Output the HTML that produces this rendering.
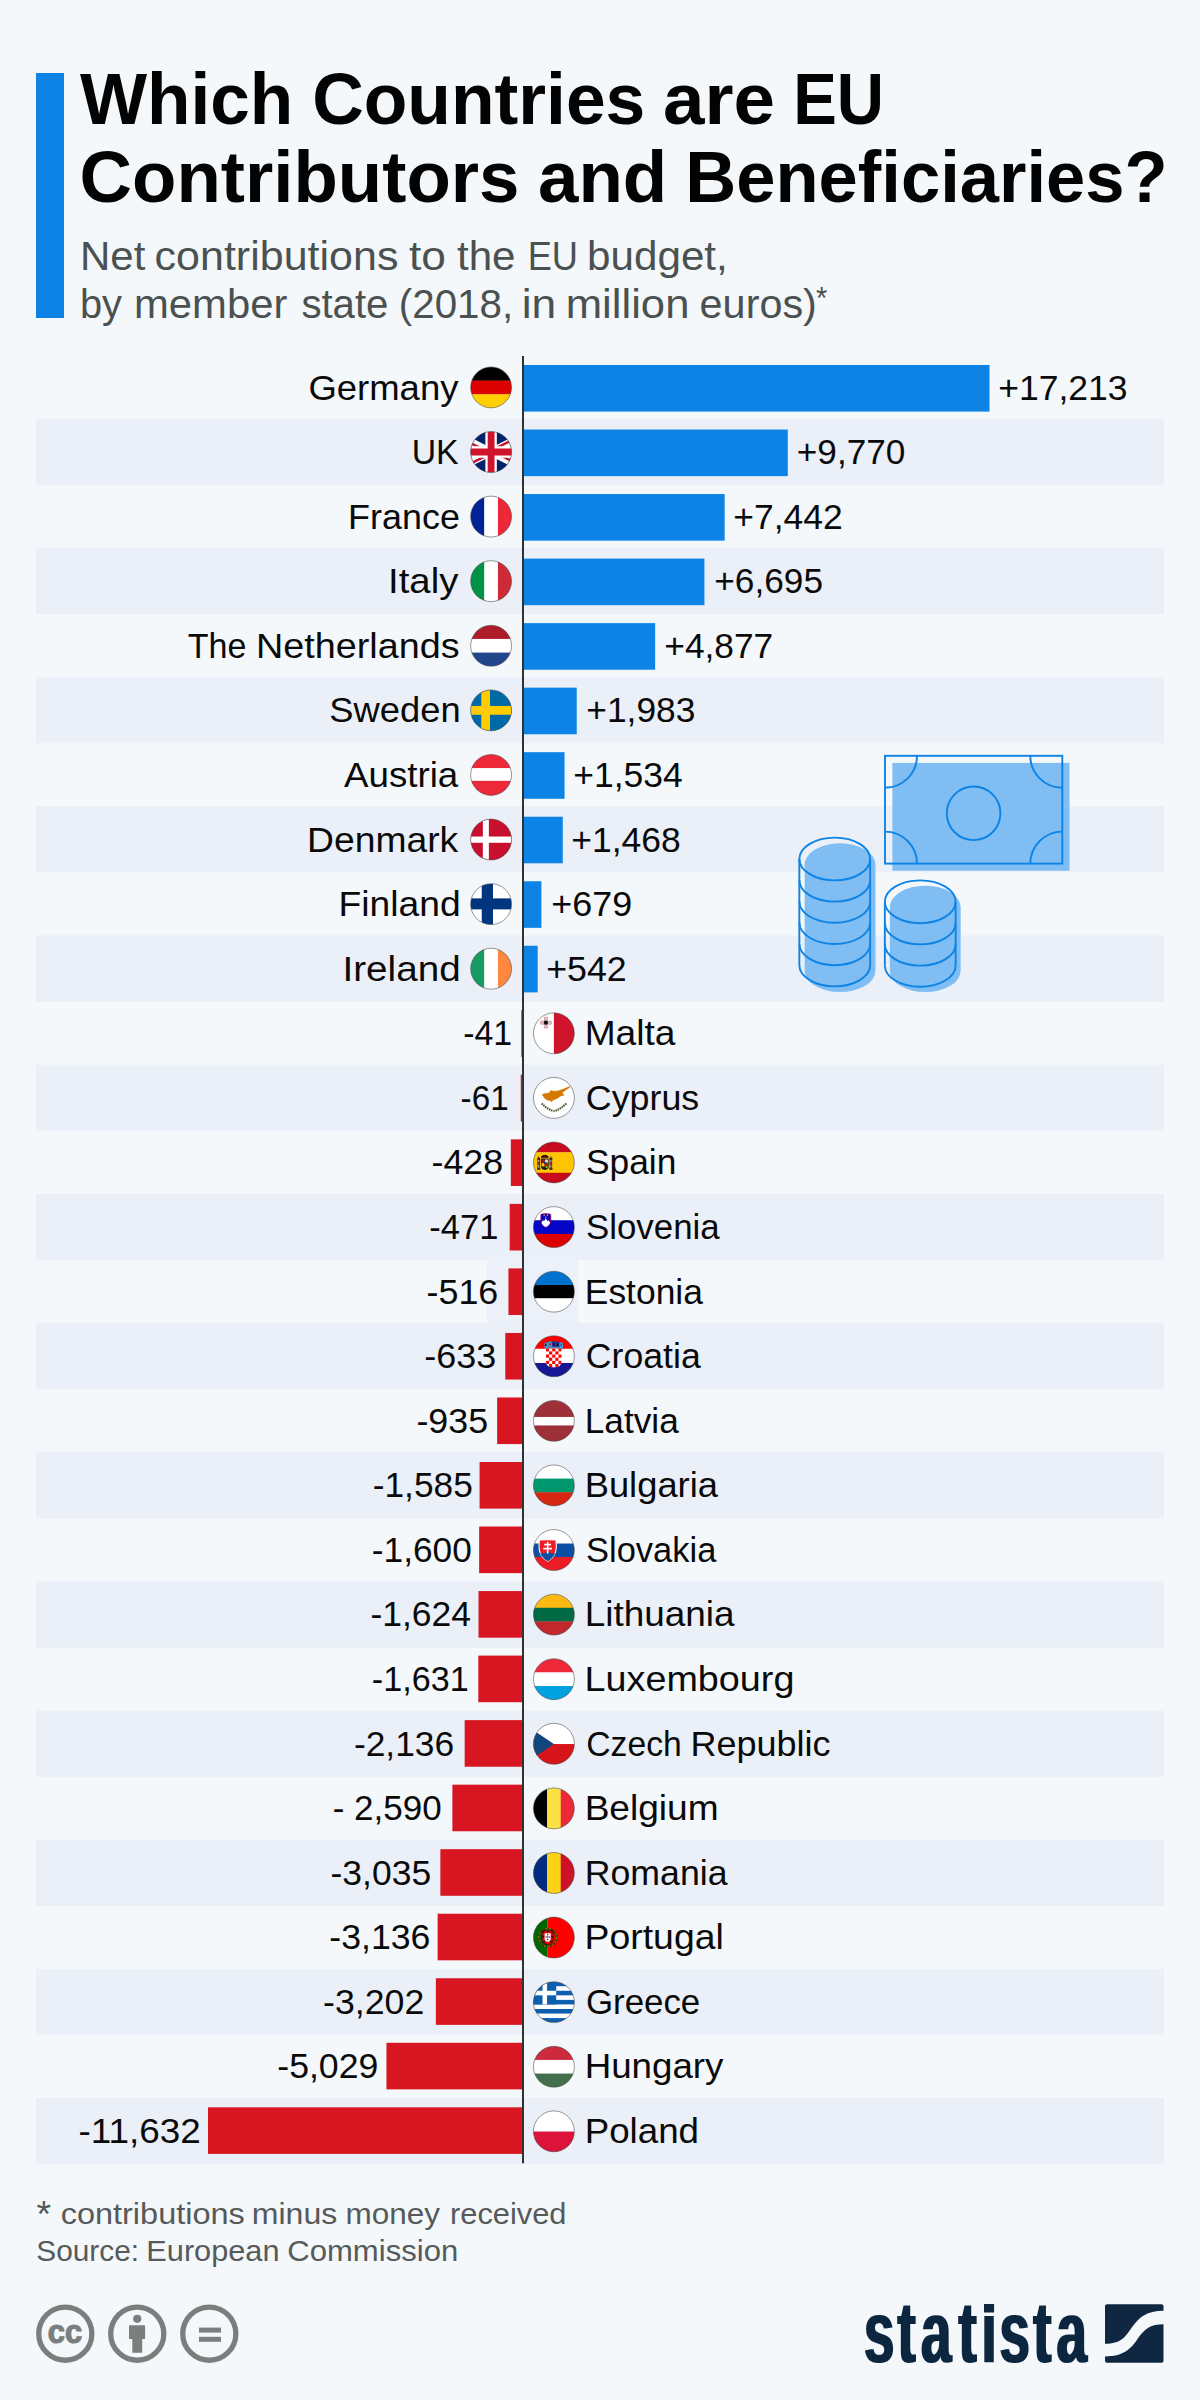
<!DOCTYPE html>
<html lang="en"><head><meta charset="utf-8"><title>Which Countries are EU Contributors and Beneficiaries?</title>
<style>html,body{margin:0;padding:0;background:#f4f8fb}svg{display:block}text{font-family:"Liberation Sans",Arial,sans-serif}</style></head><body>
<svg width="1200" height="2400" viewBox="0 0 1200 2400">
<rect width="1200" height="2400" fill="#f4f8fb"/>
<rect x="36" y="73" width="28" height="245" fill="#0d84e5"/>
<text y="123.50" font-size="71.8" fill="#020302" font-weight="700"><tspan x="80.00" textLength="213.30" lengthAdjust="spacingAndGlyphs">Which</tspan> <tspan x="312.14" textLength="333.20" lengthAdjust="spacingAndGlyphs">Countries</tspan> <tspan x="662.92" textLength="112.03" lengthAdjust="spacingAndGlyphs">are</tspan> <tspan x="793.18" textLength="90.74" lengthAdjust="spacingAndGlyphs">EU</tspan></text>
<text y="201.50" font-size="71.8" fill="#020302" font-weight="700"><tspan x="79.59" textLength="439.87" lengthAdjust="spacingAndGlyphs">Contributors</tspan> <tspan x="537.97" textLength="129.28" lengthAdjust="spacingAndGlyphs">and</tspan> <tspan x="685.33" textLength="482.24" lengthAdjust="spacingAndGlyphs">Beneficiaries?</tspan></text>
<text y="269.80" font-size="41" fill="#4b5050"><tspan x="79.97" textLength="65.34" lengthAdjust="spacingAndGlyphs">Net</tspan> <tspan x="154.55" textLength="243.87" lengthAdjust="spacingAndGlyphs">contributions</tspan> <tspan x="409.06" textLength="36.97" lengthAdjust="spacingAndGlyphs">to</tspan> <tspan x="456.99" textLength="58.56" lengthAdjust="spacingAndGlyphs">the</tspan> <tspan x="527.63" textLength="50.35" lengthAdjust="spacingAndGlyphs">EU</tspan> <tspan x="587.10" textLength="140.67" lengthAdjust="spacingAndGlyphs">budget,</tspan></text>
<text y="317.80" font-size="41" fill="#4b5050"><tspan x="79.95" textLength="42.10" lengthAdjust="spacingAndGlyphs">by</tspan> <tspan x="134.02" textLength="153.31" lengthAdjust="spacingAndGlyphs">member</tspan> <tspan x="301.40" textLength="87.03" lengthAdjust="spacingAndGlyphs">state</tspan> <tspan x="398.79" textLength="114.38" lengthAdjust="spacingAndGlyphs">(2018,</tspan> <tspan x="521.66" textLength="34.48" lengthAdjust="spacingAndGlyphs">in</tspan> <tspan x="565.70" textLength="123.73" lengthAdjust="spacingAndGlyphs">million</tspan> <tspan x="699.61" textLength="117.28" lengthAdjust="spacingAndGlyphs">euros)</tspan></text>
<text transform="translate(816.03 309.00) scale(0.9348 1)" font-size="31" fill="#4b5050">*</text>
<rect x="36" y="418.70" width="1128" height="66.3" fill="#ebf0f8"/>
<rect x="36" y="547.88" width="1128" height="66.3" fill="#ebf0f8"/>
<rect x="36" y="677.06" width="1128" height="66.3" fill="#ebf0f8"/>
<rect x="36" y="806.24" width="1128" height="66.3" fill="#ebf0f8"/>
<rect x="36" y="935.42" width="1128" height="66.3" fill="#ebf0f8"/>
<rect x="36" y="1064.60" width="1128" height="66.3" fill="#ebf0f8"/>
<rect x="36" y="1193.78" width="1128" height="66.3" fill="#ebf0f8"/>
<rect x="36" y="1322.96" width="1128" height="66.3" fill="#ebf0f8"/>
<rect x="36" y="1452.14" width="1128" height="66.3" fill="#ebf0f8"/>
<rect x="36" y="1581.32" width="1128" height="66.3" fill="#ebf0f8"/>
<rect x="36" y="1710.50" width="1128" height="66.3" fill="#ebf0f8"/>
<rect x="36" y="1839.68" width="1128" height="66.3" fill="#ebf0f8"/>
<rect x="36" y="1968.86" width="1128" height="66.3" fill="#ebf0f8"/>
<rect x="36" y="2098.04" width="1128" height="66.3" fill="#ebf0f8"/>
<rect x="486.8" y="1258.5" width="91" height="65.5" fill="#ebf0f8" opacity="0.9"/>
<rect x="892.4" y="762.9" width="177.1" height="107.8" fill="#7fbdf2"/><g fill="none" stroke="#0d84e5" stroke-width="1.9"><rect x="885.0" y="755.8" width="177.30" height="107.80"/><circle cx="973.6" cy="813.3" r="26.8"/><path d="M917.0 755.8 A32 32 0 0 1 885.0 787.8"/><path d="M1030.3 755.8 A32 32 0 0 0 1062.3 787.8"/><path d="M917.0 863.6 A32 32 0 0 0 885.0 831.6"/><path d="M1030.3 863.6 A32 32 0 0 1 1062.3 831.6"/></g><path d="M804.65 864.70 A35.4 21.4 0 0 1 875.45 864.70 V970.70 A35.4 21.4 0 0 1 804.65 970.70 Z" fill="#7fbdf2"/><g fill="none" stroke="#0d84e5" stroke-width="1.9"><ellipse cx="834.75" cy="859.0" rx="35.4" ry="21.4"/><path d="M799.35 880.20 A35.4 21.4 0 0 0 870.15 880.20"/><path d="M799.35 901.40 A35.4 21.4 0 0 0 870.15 901.40"/><path d="M799.35 922.60 A35.4 21.4 0 0 0 870.15 922.60"/><path d="M799.35 943.80 A35.4 21.4 0 0 0 870.15 943.80"/><path d="M799.35 965.00 A35.4 21.4 0 0 0 870.15 965.00"/><path d="M799.35 859.00 V965.00 M870.15 859.00 V965.00"/></g><path d="M889.85 907.10 A35.4 21.4 0 0 1 960.65 907.10 V970.70 A35.4 21.4 0 0 1 889.85 970.70 Z" fill="#7fbdf2"/><g fill="none" stroke="#0d84e5" stroke-width="1.9"><ellipse cx="920.25" cy="901.8" rx="35.4" ry="21.4"/><path d="M884.85 923.00 A35.4 21.4 0 0 0 955.65 923.00"/><path d="M884.85 944.20 A35.4 21.4 0 0 0 955.65 944.20"/><path d="M884.85 965.40 A35.4 21.4 0 0 0 955.65 965.40"/><path d="M884.85 901.80 V965.40 M955.65 901.80 V965.40"/></g>
<rect x="523.0" y="365.00" width="466.47" height="46.6" fill="#0d84e5"/>
<text transform="translate(308.42 399.60) scale(1.0161 1)" font-size="35.9" fill="#0a0a0a">Germany</text>
<text transform="translate(998.27 399.60) scale(0.9892 1)" font-size="35.9" fill="#0a0a0a">+17,213</text>
<g transform="translate(491.10 387.40)"><clipPath id="cde"><circle r="20.45"/></clipPath><g clip-path="url(#cde)"><rect x="-21.00" y="-21.00" width="42.00" height="14.47" fill="#000"/><rect x="-21.00" y="-6.83" width="42.00" height="13.96" fill="#dd0000"/><rect x="-21.00" y="6.83" width="42.00" height="14.17" fill="#ffce00"/></g><circle r="20.45" fill="none" stroke="#444" stroke-width="0.55"/></g>
<rect x="523.0" y="429.53" width="264.77" height="46.6" fill="#0d84e5"/>
<text transform="translate(411.71 464.17) scale(0.9412 1)" font-size="35.9" fill="#0a0a0a">UK</text>
<text transform="translate(796.78 464.17) scale(0.9803 1)" font-size="35.9" fill="#0a0a0a">+9,770</text>
<g transform="translate(491.10 451.99)"><clipPath id="cgb"><circle r="20.45"/></clipPath><g clip-path="url(#cgb)"><g transform="scale(1.3667) translate(-30 -15)"><rect width="60" height="30" fill="#012169"/><path d="M0 0L60 30M60 0L0 30" stroke="#fff" stroke-width="5.6"/><clipPath id="gbt"><path d="M30 15h30v15zv15h-30zh-30v-15zv-15h30z"/></clipPath><path d="M0 0L60 30M60 0L0 30" clip-path="url(#gbt)" stroke="#c8102e" stroke-width="3.6"/><path d="M30 0v30M0 15h60" stroke="#fff" stroke-width="8.4"/><path d="M30 0v30M0 15h60" stroke="#cf142b" stroke-width="5"/></g></g><circle r="20.45" fill="none" stroke="#444" stroke-width="0.55"/></g>
<rect x="523.0" y="494.06" width="201.68" height="46.6" fill="#0d84e5"/>
<text transform="translate(348.12 528.74) scale(1.0005 1)" font-size="35.9" fill="#0a0a0a">France</text>
<text transform="translate(733.27 528.74) scale(0.9883 1)" font-size="35.9" fill="#0a0a0a">+7,442</text>
<g transform="translate(491.10 516.58)"><clipPath id="cfr"><circle r="20.45"/></clipPath><g clip-path="url(#cfr)"><rect x="-21.00" y="-21.00" width="14.47" height="42.00" fill="#002395"/><rect x="-6.83" y="-21.00" width="13.96" height="42.00" fill="#fff"/><rect x="6.83" y="-21.00" width="14.17" height="42.00" fill="#ed2939"/></g><circle r="20.45" fill="none" stroke="#444" stroke-width="0.55"/></g>
<rect x="523.0" y="558.59" width="181.43" height="46.6" fill="#0d84e5"/>
<text transform="translate(388.03 593.31) scale(1.0688 1)" font-size="35.9" fill="#0a0a0a">Italy</text>
<text transform="translate(714.28 593.31) scale(0.9814 1)" font-size="35.9" fill="#0a0a0a">+6,695</text>
<g transform="translate(491.10 581.17)"><clipPath id="cit"><circle r="20.45"/></clipPath><g clip-path="url(#cit)"><rect x="-21.00" y="-21.00" width="14.47" height="42.00" fill="#009246"/><rect x="-6.83" y="-21.00" width="13.96" height="42.00" fill="#fff"/><rect x="6.83" y="-21.00" width="14.17" height="42.00" fill="#ce2b37"/></g><circle r="20.45" fill="none" stroke="#444" stroke-width="0.55"/></g>
<rect x="523.0" y="623.12" width="132.17" height="46.6" fill="#0d84e5"/>
<text y="657.88" font-size="35.9" fill="#0a0a0a"><tspan x="187.79" textLength="58.70" lengthAdjust="spacingAndGlyphs">The</tspan> <tspan x="255.97" textLength="203.58" lengthAdjust="spacingAndGlyphs">Netherlands</tspan></text>
<text transform="translate(664.28 657.88) scale(0.9837 1)" font-size="35.9" fill="#0a0a0a">+4,877</text>
<g transform="translate(491.10 645.76)"><clipPath id="cnl"><circle r="20.45"/></clipPath><g clip-path="url(#cnl)"><rect x="-21.00" y="-21.00" width="42.00" height="14.47" fill="#ae1c28"/><rect x="-21.00" y="-6.83" width="42.00" height="13.96" fill="#fff"/><rect x="-21.00" y="6.83" width="42.00" height="14.17" fill="#21468b"/></g><circle r="20.45" fill="none" stroke="#444" stroke-width="0.55"/></g>
<rect x="523.0" y="687.65" width="53.74" height="46.6" fill="#0d84e5"/>
<text transform="translate(329.35 722.45) scale(1.0123 1)" font-size="35.9" fill="#0a0a0a">Sweden</text>
<text transform="translate(586.28 722.45) scale(0.9849 1)" font-size="35.9" fill="#0a0a0a">+1,983</text>
<g transform="translate(491.10 710.35)"><clipPath id="cse"><circle r="20.45"/></clipPath><g clip-path="url(#cse)"><rect x="-21.00" y="-21.00" width="42.00" height="42.00" fill="#006aa7"/><rect x="-9.85" y="-21.00" width="8.75" height="42.00" fill="#fecc00"/><rect x="-21.00" y="-4.40" width="42.00" height="8.80" fill="#fecc00"/></g><circle r="20.45" fill="none" stroke="#444" stroke-width="0.55"/></g>
<rect x="523.0" y="752.18" width="41.57" height="46.6" fill="#0d84e5"/>
<text transform="translate(344.00 787.02) scale(1.0228 1)" font-size="35.9" fill="#0a0a0a">Austria</text>
<text transform="translate(573.27 787.02) scale(0.9884 1)" font-size="35.9" fill="#0a0a0a">+1,534</text>
<g transform="translate(491.10 774.94)"><clipPath id="cat"><circle r="20.45"/></clipPath><g clip-path="url(#cat)"><rect x="-21.00" y="-21.00" width="42.00" height="14.50" fill="#ed2939"/><rect x="-21.00" y="-6.80" width="42.00" height="13.00" fill="#fff"/><rect x="-21.00" y="5.90" width="42.00" height="15.10" fill="#ed2939"/></g><circle r="20.45" fill="none" stroke="#444" stroke-width="0.55"/></g>
<rect x="523.0" y="816.71" width="39.78" height="46.6" fill="#0d84e5"/>
<text transform="translate(307.01 851.59) scale(1.0389 1)" font-size="35.9" fill="#0a0a0a">Denmark</text>
<text transform="translate(571.27 851.59) scale(0.9884 1)" font-size="35.9" fill="#0a0a0a">+1,468</text>
<g transform="translate(491.10 839.53)"><clipPath id="cdk"><circle r="20.45"/></clipPath><g clip-path="url(#cdk)"><rect x="-21.00" y="-21.00" width="42.00" height="42.00" fill="#c8102e"/><rect x="-8.25" y="-21.00" width="6.00" height="42.00" fill="#fff"/><rect x="-21.00" y="-3.00" width="42.00" height="6.25" fill="#fff"/></g><circle r="20.45" fill="none" stroke="#444" stroke-width="0.55"/></g>
<rect x="523.0" y="881.24" width="18.40" height="46.6" fill="#0d84e5"/>
<text transform="translate(338.52 916.16) scale(1.0371 1)" font-size="35.9" fill="#0a0a0a">Finland</text>
<text transform="translate(551.25 916.16) scale(1.0000 1)" font-size="35.9" fill="#0a0a0a">+679</text>
<g transform="translate(491.10 904.12)"><clipPath id="cfi"><circle r="20.45"/></clipPath><g clip-path="url(#cfi)"><rect x="-21.00" y="-21.00" width="42.00" height="42.00" fill="#fff"/><rect x="-9.35" y="-21.00" width="11.25" height="42.00" fill="#003580"/><rect x="-21.00" y="-5.75" width="42.00" height="11.00" fill="#003580"/></g><circle r="20.45" fill="none" stroke="#444" stroke-width="0.55"/></g>
<rect x="523.0" y="945.77" width="14.69" height="46.6" fill="#0d84e5"/>
<text transform="translate(342.50 980.73) scale(1.0772 1)" font-size="35.9" fill="#0a0a0a">Ireland</text>
<text transform="translate(546.26 980.73) scale(0.9952 1)" font-size="35.9" fill="#0a0a0a">+542</text>
<g transform="translate(491.10 968.71)"><clipPath id="cie"><circle r="20.45"/></clipPath><g clip-path="url(#cie)"><rect x="-21.00" y="-21.00" width="14.47" height="42.00" fill="#169b62"/><rect x="-6.83" y="-21.00" width="13.96" height="42.00" fill="#fff"/><rect x="6.83" y="-21.00" width="14.17" height="42.00" fill="#ff883e"/></g><circle r="20.45" fill="none" stroke="#444" stroke-width="0.55"/></g>
<rect x="521.29" y="1010.30" width="1.71" height="46.6" fill="#d71622"/>
<text transform="translate(584.63 1045.30) scale(1.0345 1)" font-size="35.9" fill="#0a0a0a">Malta</text>
<text transform="translate(463.19 1045.30) scale(0.9419 1)" font-size="35.9" fill="#0a0a0a">-41</text>
<g transform="translate(553.90 1033.30)"><clipPath id="cmt"><circle r="20.45"/></clipPath><g clip-path="url(#cmt)"><rect x="-21.00" y="-21.00" width="21.00" height="42.00" fill="#fff"/><rect x="0.00" y="-21.00" width="21.00" height="42.00" fill="#cf142b"/><g transform="translate(-8 -10.6)"><path d="M-1.5 -5.4h3v3.9h3.9v3h-3.9v3.9h-3v-3.9h-3.9v-3h3.9z" fill="#c9cccd" stroke="#e8707c" stroke-width="0.6"/><circle r="2.1" fill="#111"/></g></g><circle r="20.45" fill="none" stroke="#444" stroke-width="0.55"/></g>
<rect x="520.75" y="1074.83" width="2.25" height="46.6" fill="#d71622"/>
<text transform="translate(585.86 1109.87) scale(0.9968 1)" font-size="35.9" fill="#0a0a0a">Cyprus</text>
<text transform="translate(460.61 1109.87) scale(0.9254 1)" font-size="35.9" fill="#0a0a0a">-61</text>
<g transform="translate(553.90 1097.89)"><clipPath id="ccy"><circle r="20.45"/></clipPath><g clip-path="url(#ccy)"><rect x="-21.00" y="-21.00" width="42.00" height="42.00" fill="#fff"/><path d="M-11.75 -3.1L-9.75 -4.1L-7.75 -4.35L-4.25 -5.1L-3.5 -7.35L-1.75 -6.85L2.25 -6.6L6.25 -7.6L10.25 -9.1L13.75 -10.6L16.25 -11.7L15.25 -10.1L12.25 -8.1L9.75 -6.6L8.5 -4.6L10.25 -2.6L8.25 -2.35L6.25 -1.6L4.25 -0.1L1.25 1.4L-1.25 2.4L-2.5 4.15L-3.75 2.65L-6.75 2.15L-9.25 0.4L-10.5 -1.6Z" fill="#d57800" stroke="#d57800" stroke-width="0.5" stroke-linejoin="round"/><path d="M-12.3 5.6Q-7 11 -0.3 13.3M12.5 5.6Q7 11 0.3 13.3" fill="none" stroke="#4e5b31" stroke-width="2" stroke-dasharray="1.6 0.7"/></g><circle r="20.45" fill="none" stroke="#444" stroke-width="0.55"/></g>
<rect x="510.83" y="1139.36" width="12.17" height="46.6" fill="#d71622"/>
<text transform="translate(586.00 1174.44) scale(0.9846 1)" font-size="35.9" fill="#0a0a0a">Spain</text>
<text transform="translate(431.50 1174.44) scale(0.9975 1)" font-size="35.9" fill="#0a0a0a">-428</text>
<g transform="translate(553.90 1162.48)"><clipPath id="ces"><circle r="20.45"/></clipPath><g clip-path="url(#ces)"><rect x="-21.00" y="-21.00" width="42.00" height="11.10" fill="#c60b1e"/><rect x="-21.00" y="-10.20" width="42.00" height="20.80" fill="#ffc400"/><rect x="-21.00" y="10.30" width="42.00" height="10.70" fill="#c60b1e"/><rect x="-16.40" y="-3.40" width="2.40" height="9.30" fill="#2a2a2a"/><rect x="-15.70" y="-2.60" width="1.00" height="2.40" fill="#b8b8b8"/><rect x="-15.70" y="2.20" width="1.00" height="3.00" fill="#b8b8b8"/><rect x="-16.70" y="-4.40" width="3.00" height="1.30" fill="#1a1a1a"/><rect x="-16.80" y="5.70" width="3.20" height="1.60" fill="#1a1a1a"/><rect x="-16.50" y="0.20" width="2.60" height="1.60" fill="#ad1519"/><rect x="-15.70" y="-6.00" width="1.00" height="1.80" fill="#1a1a1a"/><rect x="-4.20" y="-3.40" width="2.40" height="9.30" fill="#2a2a2a"/><rect x="-3.50" y="-2.60" width="1.00" height="2.40" fill="#b8b8b8"/><rect x="-3.50" y="2.20" width="1.00" height="3.00" fill="#b8b8b8"/><rect x="-4.50" y="-4.40" width="3.00" height="1.30" fill="#1a1a1a"/><rect x="-4.60" y="5.70" width="3.20" height="1.60" fill="#1a1a1a"/><rect x="-4.30" y="0.20" width="2.60" height="1.60" fill="#ad1519"/><rect x="-3.50" y="-6.00" width="1.00" height="1.80" fill="#1a1a1a"/><path d="M-13 -3.6H-5.2V3.6Q-5.2 7.4 -9.1 7.4Q-13 7.4 -13 3.6Z" fill="#1a1a1a"/><rect x="-12.30" y="-3.00" width="3.00" height="3.20" fill="#ad1519"/><rect x="-9.00" y="-3.00" width="3.10" height="3.20" fill="#d8d8d8"/><rect x="-12.30" y="0.60" width="3.00" height="3.40" fill="#ffc400"/><rect x="-9.00" y="0.60" width="3.10" height="3.40" fill="#ad1519"/><circle cx="-7.3" cy="4.6" r="1.2" fill="#9aa81e"/><circle cx="-9.1" cy="0.3" r="1.0" fill="#0039a6"/><path d="M-12.6 -3.9Q-13.4 -6.6 -11.4 -6.9Q-9.6 -8.6 -9.1 -7.2Q-8.6 -8.6 -6.8 -6.9Q-4.8 -6.6 -5.6 -3.9Z" fill="#1a1a1a"/><rect x="-11.60" y="-5.40" width="5.00" height="0.90" fill="#ad1519"/></g><circle r="20.45" fill="none" stroke="#444" stroke-width="0.55"/></g>
<rect x="509.67" y="1203.89" width="13.33" height="46.6" fill="#d71622"/>
<text transform="translate(586.02 1239.01) scale(0.9706 1)" font-size="35.9" fill="#0a0a0a">Slovenia</text>
<text transform="translate(429.36 1239.01) scale(0.9603 1)" font-size="35.9" fill="#0a0a0a">-471</text>
<g transform="translate(553.90 1227.07)"><clipPath id="csi"><circle r="20.45"/></clipPath><g clip-path="url(#csi)"><rect x="-21.00" y="-21.00" width="42.00" height="14.47" fill="#fff"/><rect x="-21.00" y="-6.83" width="42.00" height="13.96" fill="#0505c8"/><rect x="-21.00" y="6.83" width="42.00" height="14.17" fill="#dd0000"/><path d="M-13 -12.9Q-8.1 -14.2 -3.2 -12.9Q-2.4 -6 -4 -3Q-5.5 -0.6 -8.1 0.2Q-10.7 -0.6 -12.2 -3Q-13.8 -6 -13 -12.9Z" fill="#0505c8" stroke="#e3001b" stroke-width="0.6"/><path d="M-12.4 -4.8L-10.8 -6.8L-9.8 -6L-8.1 -8.8L-6.4 -6L-5.4 -6.8L-3.8 -4.8Q-4.3 -1.4 -8.1 -0.1Q-11.9 -1.4 -12.4 -4.8Z" fill="#fff"/><circle cx="-9.7" cy="-11.9" r="0.65" fill="#ffdd00"/><circle cx="-6.5" cy="-11.9" r="0.65" fill="#ffdd00"/><circle cx="-8.1" cy="-9.9" r="0.65" fill="#ffdd00"/></g><circle r="20.45" fill="none" stroke="#444" stroke-width="0.55"/></g>
<rect x="508.45" y="1268.42" width="14.55" height="46.6" fill="#d71622"/>
<text transform="translate(584.76 1303.58) scale(0.9874 1)" font-size="35.9" fill="#0a0a0a">Estonia</text>
<text transform="translate(426.50 1303.58) scale(0.9993 1)" font-size="35.9" fill="#0a0a0a">-516</text>
<g transform="translate(553.90 1291.66)"><clipPath id="cee"><circle r="20.45"/></clipPath><g clip-path="url(#cee)"><rect x="-21.00" y="-21.00" width="42.00" height="14.70" fill="#0072ce"/><rect x="-21.00" y="-6.60" width="42.00" height="13.55" fill="#000"/><rect x="-21.00" y="6.65" width="42.00" height="14.35" fill="#fff"/></g><circle r="20.45" fill="none" stroke="#444" stroke-width="0.55"/></g>
<rect x="505.29" y="1332.95" width="17.71" height="46.6" fill="#d71622"/>
<text transform="translate(585.86 1368.15) scale(0.9930 1)" font-size="35.9" fill="#0a0a0a">Croatia</text>
<text transform="translate(424.30 1368.15) scale(1.0007 1)" font-size="35.9" fill="#0a0a0a">-633</text>
<g transform="translate(553.90 1356.25)"><clipPath id="chr"><circle r="20.45"/></clipPath><g clip-path="url(#chr)"><rect x="-21.00" y="-21.00" width="42.00" height="13.80" fill="#ff0000"/><rect x="-21.00" y="-7.50" width="42.00" height="14.55" fill="#fff"/><rect x="-21.00" y="6.75" width="42.00" height="14.25" fill="#171796"/><clipPath id="hrs"><path d="M-8 -8H7.75V4.5Q7.75 11.3 -0.1 11.3Q-8 11.3 -8 4.5Z"/></clipPath><g clip-path="url(#hrs)"><rect x="-8.00" y="-8.00" width="15.80" height="19.50" fill="#fff"/><rect x="-8.00" y="-8.00" width="3.15" height="3.15" fill="#ff0000"/><rect x="-1.70" y="-8.00" width="3.15" height="3.15" fill="#ff0000"/><rect x="4.60" y="-8.00" width="3.15" height="3.15" fill="#ff0000"/><rect x="-4.85" y="-4.85" width="3.15" height="3.15" fill="#ff0000"/><rect x="1.45" y="-4.85" width="3.15" height="3.15" fill="#ff0000"/><rect x="-8.00" y="-1.70" width="3.15" height="3.15" fill="#ff0000"/><rect x="-1.70" y="-1.70" width="3.15" height="3.15" fill="#ff0000"/><rect x="4.60" y="-1.70" width="3.15" height="3.15" fill="#ff0000"/><rect x="-4.85" y="1.45" width="3.15" height="3.15" fill="#ff0000"/><rect x="1.45" y="1.45" width="3.15" height="3.15" fill="#ff0000"/><rect x="-8.00" y="4.60" width="3.15" height="3.15" fill="#ff0000"/><rect x="-1.70" y="4.60" width="3.15" height="3.15" fill="#ff0000"/><rect x="4.60" y="4.60" width="3.15" height="3.15" fill="#ff0000"/><rect x="-4.85" y="7.75" width="3.15" height="3.15" fill="#ff0000"/><rect x="1.45" y="7.75" width="3.15" height="3.15" fill="#ff0000"/><rect x="-8.00" y="10.90" width="3.15" height="3.15" fill="#ff0000"/><rect x="-1.70" y="10.90" width="3.15" height="3.15" fill="#ff0000"/><rect x="4.60" y="10.90" width="3.15" height="3.15" fill="#ff0000"/></g><path d="M-9.40 -13.20L-7.60 -14.10L-5.80 -13.20V-8.20H-9.40Z" fill="#2aa5e0"/><path d="M-5.70 -14.20L-3.90 -15.10L-2.10 -14.20V-9.20H-5.70Z" fill="#2aa5e0"/><path d="M-1.90 -14.60L-0.10 -15.50L1.70 -14.60V-9.60H-1.90Z" fill="#1b3f9c"/><path d="M1.80 -14.20L3.60 -15.10L5.40 -14.20V-9.20H1.80Z" fill="#1b3f9c"/><path d="M5.50 -13.20L7.30 -14.10L9.10 -13.20V-8.20H5.50Z" fill="#2aa5e0"/><rect x="-8.90" y="-12.60" width="1.40" height="2.60" fill="#1a1a1a"/><rect x="-4.60" y="-13.20" width="1.60" height="2.60" fill="#d21034"/><rect x="-0.90" y="-13.40" width="1.60" height="3.00" fill="#1a1a1a"/><rect x="2.80" y="-13.20" width="1.60" height="3.00" fill="#111"/><rect x="6.60" y="-12.40" width="1.40" height="2.00" fill="#d21034"/><path d="M-8.6 -8.3Q-0.1 -10.2 8.4 -8.3L8 -7.4Q-0.1 -9 -8.2 -7.4Z" fill="#2aa5e0"/></g><circle r="20.45" fill="none" stroke="#444" stroke-width="0.55"/></g>
<rect x="497.13" y="1397.48" width="25.87" height="46.6" fill="#d71622"/>
<text transform="translate(584.78 1432.72) scale(0.9814 1)" font-size="35.9" fill="#0a0a0a">Latvia</text>
<text transform="translate(416.40 1432.72) scale(0.9989 1)" font-size="35.9" fill="#0a0a0a">-935</text>
<g transform="translate(553.90 1420.84)"><clipPath id="clv"><circle r="20.45"/></clipPath><g clip-path="url(#clv)"><rect x="-21.00" y="-21.00" width="42.00" height="17.40" fill="#9e3039"/><rect x="-21.00" y="-3.90" width="42.00" height="8.80" fill="#fff"/><rect x="-21.00" y="4.60" width="42.00" height="16.40" fill="#9e3039"/></g><circle r="20.45" fill="none" stroke="#444" stroke-width="0.55"/></g>
<rect x="479.56" y="1462.01" width="43.44" height="46.6" fill="#d71622"/>
<text transform="translate(584.69 1497.29) scale(1.0120 1)" font-size="35.9" fill="#0a0a0a">Bulgaria</text>
<text transform="translate(372.73 1497.29) scale(0.9828 1)" font-size="35.9" fill="#0a0a0a">-1,585</text>
<g transform="translate(553.90 1485.43)"><clipPath id="cbg"><circle r="20.45"/></clipPath><g clip-path="url(#cbg)"><rect x="-21.00" y="-21.00" width="42.00" height="14.47" fill="#fff"/><rect x="-21.00" y="-6.83" width="42.00" height="13.96" fill="#00966e"/><rect x="-21.00" y="6.83" width="42.00" height="14.17" fill="#d62612"/></g><circle r="20.45" fill="none" stroke="#444" stroke-width="0.55"/></g>
<rect x="479.15" y="1526.54" width="43.85" height="46.6" fill="#d71622"/>
<text transform="translate(586.04 1561.86) scale(0.9601 1)" font-size="35.9" fill="#0a0a0a">Slovakia</text>
<text transform="translate(371.83 1561.86) scale(0.9820 1)" font-size="35.9" fill="#0a0a0a">-1,600</text>
<g transform="translate(553.90 1550.02)"><clipPath id="csk"><circle r="20.45"/></clipPath><g clip-path="url(#csk)"><rect x="-21.00" y="-21.00" width="42.00" height="14.80" fill="#fff"/><rect x="-21.00" y="-6.50" width="42.00" height="13.80" fill="#0b4ea2"/><rect x="-21.00" y="7.00" width="42.00" height="14.00" fill="#ee1c25"/><path d="M-14.6 -10Q-6.25 -10.6 2.1 -10Q3.2 0 0.4 5Q-2 9 -6.25 11.2Q-10.5 9 -12.9 5Q-15.7 0 -14.6 -10Z" fill="#ee1c25" stroke="#fff" stroke-width="1.1"/><clipPath id="sks"><path d="M-14.6 -10Q-6.25 -10.6 2.1 -10Q3.2 0 0.4 5Q-2 9 -6.25 11.2Q-10.5 9 -12.9 5Q-15.7 0 -14.6 -10Z"/></clipPath><g clip-path="url(#sks)"><path d="M-16 12V4.2Q-14.2 2.2 -12 3.6Q-10.6 3.2 -9.4 3.4Q-6.25 -0.4 -3.1 3.4Q-1.9 3.2 -0.5 3.6Q1.7 2.2 3.5 4.2V12Z" fill="#0b4ea2"/></g><path d="M-7.05 -8.2h1.6v2h2.6v1.7h-2.6v2.2h3.6v1.7h-3.6v4.2h-1.6v-4.2h-3.6v-1.7h3.6v-2.2h-2.6v-1.7h2.6z" fill="#fff"/></g><circle r="20.45" fill="none" stroke="#444" stroke-width="0.55"/></g>
<rect x="478.50" y="1591.07" width="44.50" height="46.6" fill="#d71622"/>
<text transform="translate(584.64 1626.43) scale(1.0298 1)" font-size="35.9" fill="#0a0a0a">Lithuania</text>
<text transform="translate(370.52 1626.43) scale(0.9874 1)" font-size="35.9" fill="#0a0a0a">-1,624</text>
<g transform="translate(553.90 1614.61)"><clipPath id="clt"><circle r="20.45"/></clipPath><g clip-path="url(#clt)"><rect x="-21.00" y="-21.00" width="42.00" height="14.47" fill="#fdb913"/><rect x="-21.00" y="-6.83" width="42.00" height="13.96" fill="#006a44"/><rect x="-21.00" y="6.83" width="42.00" height="14.17" fill="#c1272d"/></g><circle r="20.45" fill="none" stroke="#444" stroke-width="0.55"/></g>
<rect x="478.31" y="1655.60" width="44.69" height="46.6" fill="#d71622"/>
<text transform="translate(584.58 1691.00) scale(1.0516 1)" font-size="35.9" fill="#0a0a0a">Luxembourg</text>
<text transform="translate(371.87 1691.00) scale(0.9513 1)" font-size="35.9" fill="#0a0a0a">-1,631</text>
<g transform="translate(553.90 1679.20)"><clipPath id="clu"><circle r="20.45"/></clipPath><g clip-path="url(#clu)"><rect x="-21.00" y="-21.00" width="42.00" height="14.47" fill="#ed2939"/><rect x="-21.00" y="-6.83" width="42.00" height="13.96" fill="#fff"/><rect x="-21.00" y="6.83" width="42.00" height="14.17" fill="#00a1de"/></g><circle r="20.45" fill="none" stroke="#444" stroke-width="0.55"/></g>
<rect x="464.66" y="1720.13" width="58.34" height="46.6" fill="#d71622"/>
<text y="1755.57" font-size="35.9" fill="#0a0a0a"><tspan x="586.26" textLength="95.51" lengthAdjust="spacingAndGlyphs">Czech</tspan> <tspan x="690.41" textLength="140.16" lengthAdjust="spacingAndGlyphs">Republic</tspan></text>
<text transform="translate(353.92 1755.57) scale(0.9845 1)" font-size="35.9" fill="#0a0a0a">-2,136</text>
<g transform="translate(553.90 1743.79)"><clipPath id="ccz"><circle r="20.45"/></clipPath><g clip-path="url(#ccz)"><rect x="-21.00" y="-21.00" width="42.00" height="21.25" fill="#fff"/><rect x="-21.00" y="0.25" width="42.00" height="21.00" fill="#d7141a"/><path d="M-30.75 -20.5L0 0.1L-30.75 20.7Z" fill="#11457e"/></g><circle r="20.45" fill="none" stroke="#444" stroke-width="0.55"/></g>
<rect x="452.39" y="1784.66" width="70.61" height="46.6" fill="#d71622"/>
<text transform="translate(584.63 1820.14) scale(1.0333 1)" font-size="35.9" fill="#0a0a0a">Belgium</text>
<text transform="translate(332.74 1820.14) scale(0.9754 1)" font-size="35.9" fill="#0a0a0a">- 2,590</text>
<g transform="translate(553.90 1808.38)"><clipPath id="cbe"><circle r="20.45"/></clipPath><g clip-path="url(#cbe)"><rect x="-21.00" y="-21.00" width="14.47" height="42.00" fill="#000"/><rect x="-6.83" y="-21.00" width="13.96" height="42.00" fill="#fae042"/><rect x="6.83" y="-21.00" width="14.17" height="42.00" fill="#ed2939"/></g><circle r="20.45" fill="none" stroke="#444" stroke-width="0.55"/></g>
<rect x="440.36" y="1849.19" width="82.64" height="46.6" fill="#d71622"/>
<text transform="translate(584.74 1884.71) scale(0.9940 1)" font-size="35.9" fill="#0a0a0a">Romania</text>
<text transform="translate(330.52 1884.71) scale(0.9884 1)" font-size="35.9" fill="#0a0a0a">-3,035</text>
<g transform="translate(553.90 1872.97)"><clipPath id="cro"><circle r="20.45"/></clipPath><g clip-path="url(#cro)"><rect x="-21.00" y="-21.00" width="14.47" height="42.00" fill="#002b7f"/><rect x="-6.83" y="-21.00" width="13.96" height="42.00" fill="#fcd116"/><rect x="6.83" y="-21.00" width="14.17" height="42.00" fill="#ce1126"/></g><circle r="20.45" fill="none" stroke="#444" stroke-width="0.55"/></g>
<rect x="437.63" y="1913.72" width="85.37" height="46.6" fill="#d71622"/>
<text transform="translate(584.61 1949.28) scale(1.0411 1)" font-size="35.9" fill="#0a0a0a">Portugal</text>
<text transform="translate(329.31 1949.28) scale(0.9932 1)" font-size="35.9" fill="#0a0a0a">-3,136</text>
<g transform="translate(553.90 1937.56)"><clipPath id="cpt"><circle r="20.45"/></clipPath><g clip-path="url(#cpt)"><rect x="-21.00" y="-21.00" width="14.75" height="42.00" fill="#006600"/><rect x="-6.25" y="-21.00" width="28.00" height="42.00" fill="#ff0000"/><g transform="translate(-6.25 0)"><circle r="9.0" fill="none" stroke="#3a3a00" stroke-width="1.7"/><circle r="9.0" fill="none" stroke="#d8c800" stroke-width="0.8" stroke-dasharray="1.4 2.6"/><path d="M-8.6 -3.5Q0 1 8.6 -3.5M-8.6 3.5Q0 -1 8.6 3.5M0 -9V9" fill="none" stroke="#5a5a10" stroke-width="0.8"/><path d="M-5.6 -6.8H5.6V1.4Q5.6 6.8 0 6.8Q-5.6 6.8 -5.6 1.4Z" fill="#ff0000" stroke="#111" stroke-width="0.9"/><rect x="-5.00" y="-6.20" width="1.6" height="1.6" fill="#111"/><rect x="-0.80" y="-6.40" width="1.6" height="1.6" fill="#111"/><rect x="3.40" y="-6.20" width="1.6" height="1.6" fill="#111"/><rect x="-5.20" y="-1.80" width="1.6" height="1.6" fill="#111"/><rect x="3.60" y="-1.80" width="1.6" height="1.6" fill="#111"/><rect x="-4.20" y="3.00" width="1.6" height="1.6" fill="#111"/><rect x="2.60" y="3.00" width="1.6" height="1.6" fill="#111"/><path d="M-3.0 -4.3H3.0V1.0Q3.0 4.2 0 4.2Q-3.0 4.2 -3.0 1.0Z" fill="#fff"/><circle cx="0" cy="-2.9" r="0.75" fill="#003399"/><circle cx="-1.6" cy="-0.6" r="0.75" fill="#003399"/><circle cx="0" cy="-0.6" r="0.75" fill="#003399"/><circle cx="1.6" cy="-0.6" r="0.75" fill="#003399"/><circle cx="0" cy="1.9" r="0.75" fill="#003399"/></g></g><circle r="20.45" fill="none" stroke="#444" stroke-width="0.55"/></g>
<rect x="435.85" y="1978.25" width="87.15" height="46.6" fill="#d71622"/>
<text transform="translate(585.90 2013.85) scale(0.9718 1)" font-size="35.9" fill="#0a0a0a">Greece</text>
<text transform="translate(323.11 2013.85) scale(0.9939 1)" font-size="35.9" fill="#0a0a0a">-3,202</text>
<g transform="translate(553.90 2002.15)"><clipPath id="cgr"><circle r="20.45"/></clipPath><g clip-path="url(#cgr)"><rect x="-21.00" y="-21.00" width="42.00" height="42.00" fill="#fff"/><rect x="-21.00" y="-20.50" width="42.00" height="4.56" fill="#0d5eaf"/><rect x="-21.00" y="-11.39" width="42.00" height="4.56" fill="#0d5eaf"/><rect x="-21.00" y="-2.28" width="42.00" height="4.56" fill="#0d5eaf"/><rect x="-21.00" y="6.83" width="42.00" height="4.56" fill="#0d5eaf"/><rect x="-21.00" y="15.94" width="42.00" height="4.56" fill="#0d5eaf"/><rect x="-21.00" y="-20.50" width="23.30" height="22.78" fill="#0d5eaf"/><rect x="-11.39" y="-20.50" width="4.56" height="22.78" fill="#fff"/><rect x="-21.00" y="-11.39" width="23.30" height="4.56" fill="#fff"/></g><circle r="20.45" fill="none" stroke="#444" stroke-width="0.55"/></g>
<rect x="386.47" y="2042.78" width="136.53" height="46.6" fill="#d71622"/>
<text transform="translate(584.66 2078.42) scale(1.0232 1)" font-size="35.9" fill="#0a0a0a">Hungary</text>
<text transform="translate(277.26 2078.42) scale(0.9932 1)" font-size="35.9" fill="#0a0a0a">-5,029</text>
<g transform="translate(553.90 2066.74)"><clipPath id="chu"><circle r="20.45"/></clipPath><g clip-path="url(#chu)"><rect x="-21.00" y="-21.00" width="42.00" height="14.47" fill="#cd2a3e"/><rect x="-21.00" y="-6.83" width="42.00" height="13.96" fill="#fff"/><rect x="-21.00" y="6.83" width="42.00" height="14.17" fill="#436f4d"/></g><circle r="20.45" fill="none" stroke="#444" stroke-width="0.55"/></g>
<rect x="207.99" y="2107.31" width="315.01" height="46.6" fill="#d71622"/>
<text transform="translate(584.66 2142.99) scale(1.0232 1)" font-size="35.9" fill="#0a0a0a">Poland</text>
<text transform="translate(78.46 2142.99) scale(1.0281 1)" font-size="35.9" fill="#0a0a0a">-11,632</text>
<g transform="translate(553.90 2131.33)"><clipPath id="cpl"><circle r="20.45"/></clipPath><g clip-path="url(#cpl)"><rect x="-21.00" y="-21.00" width="42.00" height="21.50" fill="#fff"/><rect x="-21.00" y="0.20" width="42.00" height="20.80" fill="#dc143c"/></g><circle r="20.45" fill="none" stroke="#444" stroke-width="0.55"/></g>
<rect x="522" y="356" width="2" height="1807.3" fill="#2e3233"/>
<text transform="translate(36.49 2227.40) scale(1.0168 1)" font-size="37" fill="#565a5a">*</text>
<text y="2224.40" font-size="30" fill="#565a5a"><tspan x="60.65" textLength="184.17" lengthAdjust="spacingAndGlyphs">contributions</tspan> <tspan x="251.74" textLength="85.60" lengthAdjust="spacingAndGlyphs">minus</tspan> <tspan x="345.53" textLength="94.52" lengthAdjust="spacingAndGlyphs">money</tspan> <tspan x="450.08" textLength="116.37" lengthAdjust="spacingAndGlyphs">received</tspan></text>
<text y="2260.60" font-size="30" fill="#565a5a"><tspan x="36.26" textLength="102.74" lengthAdjust="spacingAndGlyphs">Source:</tspan> <tspan x="146.32" textLength="133.22" lengthAdjust="spacingAndGlyphs">European</tspan> <tspan x="287.20" textLength="171.03" lengthAdjust="spacingAndGlyphs">Commission</tspan></text>
<g fill="none" stroke="#7a7e7d" stroke-width="5.3"><circle cx="65.3" cy="2333.7" r="26.55"/><circle cx="137.25" cy="2333.7" r="26.55"/><circle cx="209.3" cy="2333.7" r="26.55"/></g><g fill="#7a7e7d"><circle cx="137.25" cy="2318.8" r="4.1"/><path d="M129 2326.2 q0 -1 1 -1 h14.1 q1 0 1 1 V2339 h-2.9 V2352.75 h-9.9 V2339 h-3.3 Z"/><rect x="199" y="2327.6" width="22" height="5"/><rect x="199" y="2336.8" width="22" height="5"/></g>
<text transform="translate(47.73 2342.70) scale(0.9357 1)" font-size="33" fill="#7a7e7d" font-weight="700" stroke="#7a7e7d" stroke-width="1.2">cc</text>
<filter id="fat" x="-5%" y="-5%" width="110%" height="110%"><feMorphology operator="dilate" radius="1.2 0"/></filter><clipPath id="lgc"><rect x="850" y="2304.1" width="250" height="70"/></clipPath><g filter="url(#fat)" clip-path="url(#lgc)"><text transform="translate(0 2362) scale(0.62 1)" x="1393.68 1447.79 1485.29 1546.02 1583.05 1612.14 1666.71 1703.96" y="0" font-size="88" font-weight="700" fill="#0f2741">statista</text></g><rect x="984.0" y="2304.1" width="10.1" height="8.4" fill="#0f2741"/><g transform="translate(1105.0 2304.3)"><rect width="58.5" height="58.5" rx="2" fill="#0f2741"/><path d="M-1 39.4 H0 C16 39.4 20 33 27 22.9 C34 12.8 42 6.4 58.5 6.4 H60 V19.9 H58.5 C46 19.9 40 24 33 34 C26 45 18 52.2 0 52.2 H-1 Z" fill="#f4f8fb"/></g>
</svg></body></html>
